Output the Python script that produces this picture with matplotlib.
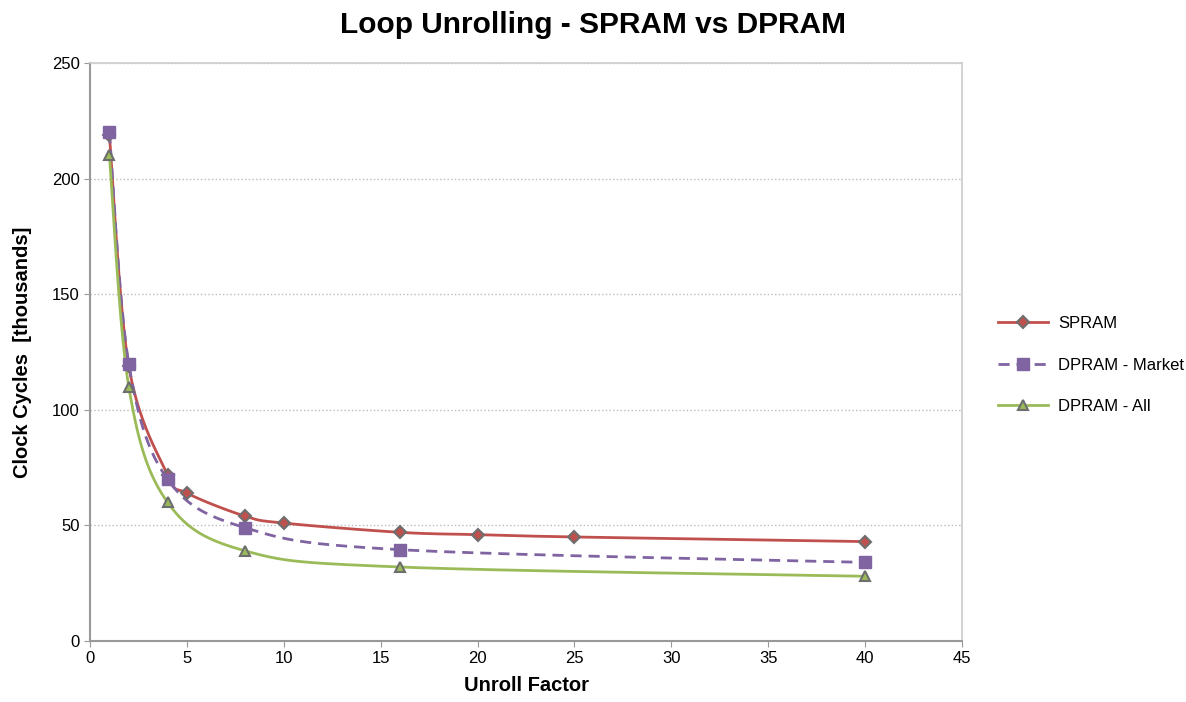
import numpy as np
import matplotlib
matplotlib.use('Agg')
import matplotlib.pyplot as plt

plt.rcParams['font.family'] = ['Liberation Sans', 'DejaVu Sans']

# data (clock cycles in thousands)
spram_x = [1, 2, 4, 5, 8, 10, 16, 20, 25, 40]
spram_y = [219, 119, 72, 64, 54, 51, 47, 46, 45, 43]
market_x = [1, 2, 4, 8, 16, 40]
market_y = [220, 120, 70, 49, 39.5, 34]
all_x = [1, 2, 4, 8, 16, 40]
all_y = [210, 110, 60, 39, 32, 28]


def smooth(x, y, n=40):
    # catmull-rom style smoothing, just for drawing the line
    x = np.asarray(x, float)
    y = np.asarray(y, float)
    xs, ys = [], []
    for i in range(len(x) - 1):
        p0 = np.array([x[max(i - 1, 0)], y[max(i - 1, 0)]])
        p1 = np.array([x[i], y[i]])
        p2 = np.array([x[i + 1], y[i + 1]])
        p3 = np.array([x[min(i + 2, len(x) - 1)], y[min(i + 2, len(x) - 1)]])
        c1 = p1 + (p2 - p0) / 6
        c2 = p2 - (p3 - p1) / 6
        t = np.linspace(0, 1, n)[:, None]
        pts = ((1 - t) ** 3) * p1 + 3 * ((1 - t) ** 2) * t * c1 + 3 * (1 - t) * t ** 2 * c2 + t ** 3 * p2
        xs.extend(pts[:, 0])
        ys.extend(pts[:, 1])
    return xs, ys


red = '#c0504d'
purple = '#8064a2'
green = '#9bbb59'
edge = '#6e6e6e'

fig = plt.figure(figsize=(11.86, 7.02), dpi=100)
ax = fig.add_axes([90 / 1186, 1 - 641 / 702, 872 / 1186, 578 / 702])

sx, sy = smooth(spram_x, spram_y)
ax.plot(sx, sy, color=red, lw=2, zorder=3)
ax.plot(spram_x, spram_y, ls='none', marker='D', ms=6, mfc=red, mec=edge, mew=1.5, zorder=4)

mx, my = smooth(market_x, market_y)
ax.plot(mx, my, color=purple, lw=2, ls=(0, (4, 2.5)), zorder=3)
ax.plot(market_x, market_y, ls='none', marker='s', ms=8, mfc=purple, mec=purple, zorder=4)

gx, gy = smooth(all_x, all_y)
ax.plot(gx, gy, color=green, lw=2, zorder=3)
ax.plot(all_x, all_y, ls='none', marker='^', ms=7, mfc=green, mec=edge, mew=1.5, zorder=4)

ax.set_xlim(0, 45)
ax.set_ylim(0, 250)
ax.set_xticks(range(0, 50, 5))
ax.set_yticks(range(0, 300, 50))
ax.tick_params(labelsize=12, color='#999999', length=4)
ax.yaxis.grid(True, ls=':', color='#bbbbbb', lw=1)
for s in ['left', 'bottom']:
    ax.spines[s].set_color('#999999')
    ax.spines[s].set_linewidth(1.5)
for s in ['top', 'right']:
    ax.spines[s].set_color('#cccccc')
    ax.spines[s].set_linewidth(1.2)

ax.set_xlabel('Unroll Factor', fontsize=14.5, fontweight='bold', labelpad=7)
ax.set_ylabel('Clock Cycles  [thousands]', fontsize=14.5, fontweight='bold', labelpad=14)
fig.suptitle('Loop Unrolling - SPRAM vs DPRAM', fontsize=21.5, fontweight='bold', y=0.985)

h1 = plt.Line2D([], [], color=red, lw=2, marker='D', ms=6, mfc=red, mec=edge, mew=1.5)
h2 = plt.Line2D([], [], color=purple, lw=2, ls=(0, (4, 2.5)), marker='s', ms=8, mfc=purple, mec=purple)
h3 = plt.Line2D([], [], color=green, lw=2, marker='^', ms=7, mfc=green, mec=edge, mew=1.5)
fig.legend([h1, h2, h3], ['SPRAM', 'DPRAM - Market', 'DPRAM - All'],
           loc='center left', bbox_to_anchor=(998 / 1186, 1 - 365 / 702),
           frameon=False, fontsize=12, labelspacing=1.6, handlelength=3,
           handletextpad=0.6, borderpad=0, borderaxespad=0)

fig.savefig('out.png', dpi=100)
